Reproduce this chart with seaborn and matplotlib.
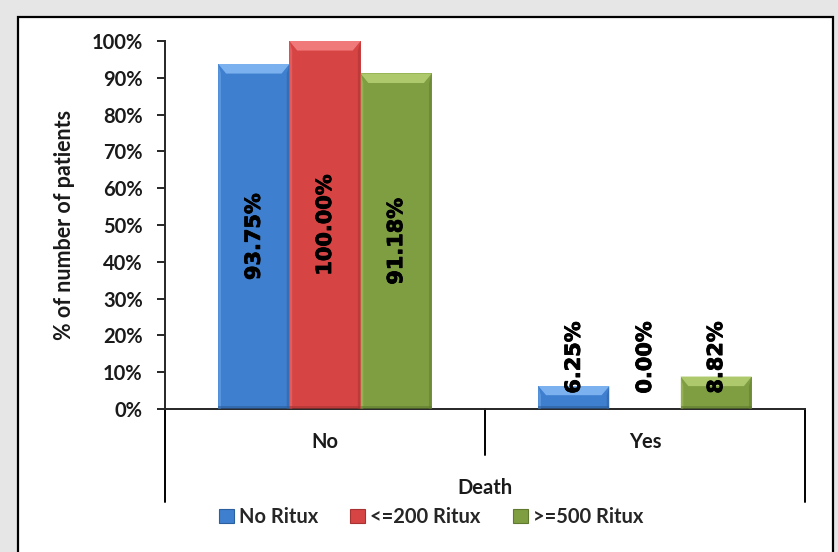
import matplotlib
matplotlib.use("Agg")
import matplotlib.pyplot as plt
from matplotlib.patches import Rectangle, Polygon, Patch
from matplotlib.lines import Line2D
import matplotlib.patheffects as pe
import seaborn as sns
import pandas as pd
import numpy as np

# Chart data
categories = ["No", "Yes"]
groups = ["No Ritux", "<=200 Ritux", ">=500 Ritux"]
pct_no = [93.75, 100.00, 91.18]
pct_yes = [6.25, 0.00, 8.82]
y_ticks = [0, 10, 20, 30, 40, 50, 60, 70, 80, 90, 100]

colors = ["#3f7fcf", "#d64444", "#7f9e42"]
light = ["#7ab1ee", "#f07a7a", "#adc96c"]
dark = ["#2c5f9e", "#a83232", "#5f7a2e"]

rows = []
for g, a, b in zip(groups, pct_no, pct_yes):
    rows.append({"Death": categories[0], "Group": g, "Pct": a})
    rows.append({"Death": categories[1], "Group": g, "Pct": b})
df = pd.DataFrame(rows)

sns.set_style("white")
LABEL_FONT = ["Lato", "DejaVu Sans"]
VALUE_FONT = ["DejaVu Sans"]

fig = plt.figure(figsize=(8.38, 5.52), dpi=100)
fig.patch.set_facecolor("#e6e6e6")
# white chart area with a black frame
fig.patches.append(Rectangle((18 / 838, -0.05), (833 - 18) / 838, 1 - 17 / 552 + 0.05,
                             transform=fig.transFigure, facecolor="white",
                             edgecolor="black", linewidth=1.6, zorder=-10))

ax = fig.add_axes([165 / 838, 1 - 409 / 552, (805 - 165) / 838, (409 - 41) / 552])
ax.set_facecolor("none")

sns.barplot(data=df, x="Death", y="Pct", hue="Group", order=categories,
            hue_order=groups, palette=colors, width=0.667, gap=0,
            saturation=1, ax=ax, legend=False, edgecolor="none", errorbar=None)

ax.set_xlim(-0.5, 1.5)
ax.set_ylim(0, 100)

# bevelled look on each bar
bars = list(ax.patches)
for i, p in enumerate(bars):
    gi = i // len(categories)
    x0, w, h = p.get_x(), p.get_width(), p.get_height()
    if h <= 0:
        continue
    bx = w * 0.11
    by = min(2.6, h * 0.4)
    top = Polygon([(x0, h), (x0 + w, h), (x0 + w - bx, h - by), (x0 + bx, h - by)],
                  closed=True, facecolor=light[gi], edgecolor="none", zorder=3)
    ax.add_patch(top)
    left = Polygon([(x0, 0), (x0, h), (x0 + bx * 0.35, h - by), (x0 + bx * 0.35, 0)],
                   closed=True, facecolor=light[gi], alpha=0.45, edgecolor="none", zorder=3)
    ax.add_patch(left)
    right = Polygon([(x0 + w, 0), (x0 + w, h), (x0 + w - bx * 0.35, h - by), (x0 + w - bx * 0.35, 0)],
                    closed=True, facecolor=dark[gi], alpha=0.5, edgecolor="none", zorder=3)
    ax.add_patch(right)
    ax.add_patch(Rectangle((x0, 0), w, min(0.8, h), facecolor=dark[gi], alpha=0.6,
                           edgecolor="none", zorder=3))

# value labels, rotated
heavy = [pe.withStroke(linewidth=0.6, foreground="black")]
for p in bars:
    x0, w, h = p.get_x(), p.get_width(), p.get_height()
    yc = h / 2 if h > 40 else 14.0
    ax.text(x0 + w / 2, yc, f"{h:.2f}%", rotation=90, ha="center", va="center",
            fontsize=15, fontweight="bold", family=VALUE_FONT, color="black",
            zorder=5, path_effects=heavy)

# axes styling
sns.despine(ax=ax, top=True, right=True)
ax.spines["left"].set_linewidth(1.4)
ax.spines["bottom"].set_linewidth(1.4)
ax.set_yticks(y_ticks)
ax.set_yticklabels([f"{v}%" for v in y_ticks], fontsize=14.5, fontweight="bold",
                   family=LABEL_FONT, color="#1a1a1a")
ax.tick_params(axis="y", direction="out", length=6, width=1.4, pad=10, left=True)
ax.tick_params(axis="x", length=0)
ax.set_xticks([])
ax.set_xlabel("")
ax.set_ylabel("% of number of patients", fontsize=15.5, fontweight="bold",
              family=LABEL_FONT, labelpad=12, color="#1a1a1a")

# category divider lines below the axis
ext = (502 - 409) / 368
mid = (455 - 409) / 368
for xa, yb in [(0, -ext), (0.5, -mid), (1, -ext)]:
    ax.add_line(Line2D([xa, xa], [0, yb], transform=ax.transAxes, color="black",
                       linewidth=1.4, clip_on=False))
for j, c in enumerate(categories):
    ax.text(j, -0.09, c, transform=ax.get_xaxis_transform(), ha="center", va="center",
            fontsize=14.5, fontweight="bold", family=LABEL_FONT, color="#1a1a1a")
ax.text(0.5, -(488 - 409) / 368, "Death", transform=ax.transAxes, ha="center",
        va="center", fontsize=14.5, fontweight="bold", family=LABEL_FONT, color="#1a1a1a")

handles = [Patch(facecolor=c, edgecolor=d, linewidth=0.8) for c, d in zip(colors, dark)]
fig.legend(handles, groups, loc="center", bbox_to_anchor=(431 / 838, 1 - 517 / 552),
           ncol=3, frameon=False, handlelength=0.75, handleheight=0.75,
           handletextpad=0.25, columnspacing=1.6,
           prop={"family": LABEL_FONT, "weight": "bold", "size": 14.5})

fig.savefig("out.png", dpi=100, facecolor=fig.get_facecolor())
